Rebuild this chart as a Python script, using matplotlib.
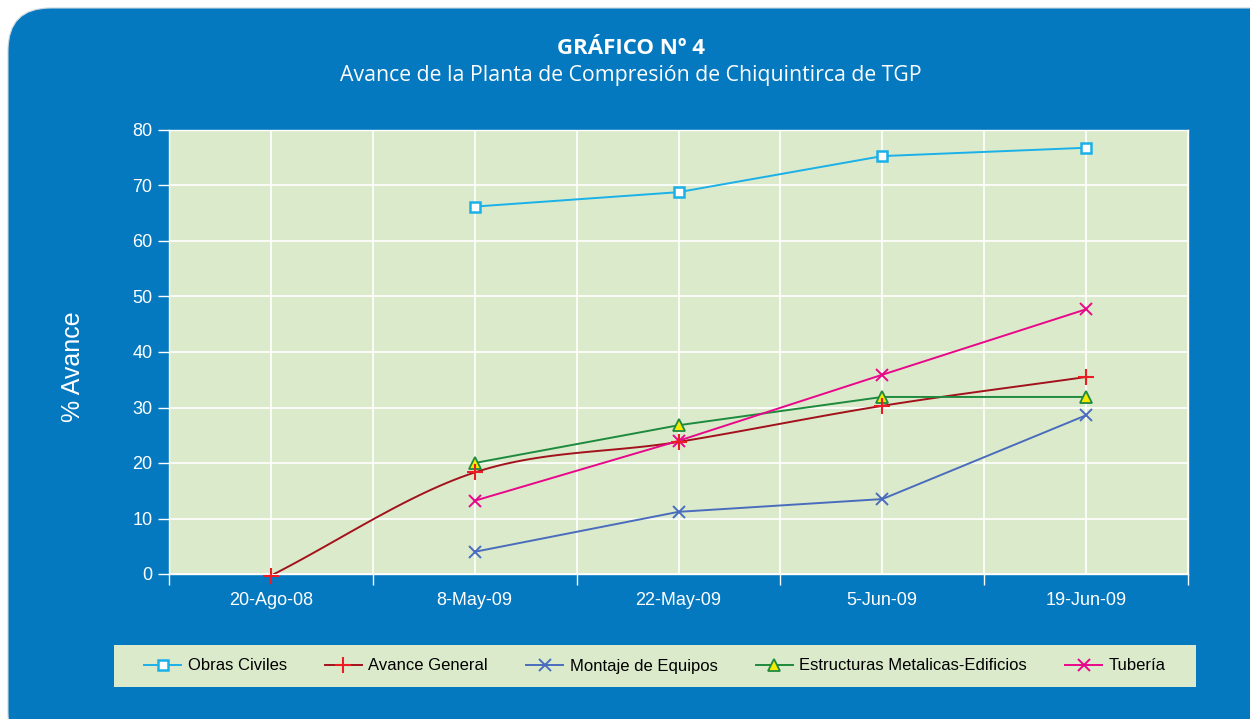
import numpy as np
import matplotlib.pyplot as plt
from matplotlib.patches import FancyBboxPatch, Rectangle

# Data
fechas = ['20-Ago-08', '8-May-09', '22-May-09', '5-Jun-09', '19-Jun-09']
obras_civiles = [None, 66.2, 68.8, 75.3, 76.8]
avance_general = [-0.3, 18.3, 23.8, 30.3, 35.5]
montaje_equipos = [None, 4.0, 11.2, 13.5, 28.6]
estructuras = [None, 20.0, 26.8, 31.9, 31.9]
tuberia = [None, 13.2, 24.0, 35.9, 47.7]

BLUE = '#0479c0'
PLOT_BG = '#dbeacb'


def smooth(xs, ys, n=30):
    # Catmull-Rom style smoothing (like Excel's smoothed line)
    xs = np.asarray(xs, float)
    ys = np.asarray(ys, float)
    px = np.concatenate([[2 * xs[0] - xs[1]], xs, [2 * xs[-1] - xs[-2]]])
    py = np.concatenate([[2 * ys[0] - ys[1]], ys, [2 * ys[-1] - ys[-2]]])
    outx, outy = [], []
    t = np.linspace(0, 1, n)
    for i in range(1, len(px) - 2):
        for p, out in ((px, outx), (py, outy)):
            p0, p1, p2, p3 = p[i - 1], p[i], p[i + 1], p[i + 2]
            seg = 0.5 * ((2 * p1) + (-p0 + p2) * t + (2 * p0 - 5 * p1 + 4 * p2 - p3) * t ** 2
                         + (-p0 + 3 * p1 - 3 * p2 + p3) * t ** 3)
            out.extend(seg)
    return np.array(outx), np.array(outy)


def present(vals):
    idx = [i for i, v in enumerate(vals) if v is not None]
    return idx, [vals[i] for i in idx]


fig = plt.figure(figsize=(12.5, 7.19), dpi=100)
fig.patch.set_facecolor('white')

# rounded blue panel
panel = FancyBboxPatch((8 / 1250, -0.05), 1.2, 1.05 - 8 / 719,
                       boxstyle='round,pad=0,rounding_size=0.034',
                       transform=fig.transFigure, facecolor=BLUE,
                       edgecolor='#c8d6e0', linewidth=0.8, mutation_aspect=1250 / 719,
                       zorder=-2)
fig.patches.append(panel)

ax = fig.add_axes([169 / 1250, 1 - 574 / 719, (1188 - 169) / 1250, (574 - 130) / 719])
ax.set_facecolor(PLOT_BG)

x = np.arange(len(fechas))

# Obras Civiles
i, v = present(obras_civiles)
ax.plot(i, v, color='#1ab0e8', linewidth=1.4, marker='s', markersize=7,
        markerfacecolor='white', markeredgecolor='#1ab0e8', markeredgewidth=1.8,
        label='Obras Civiles', zorder=5)

# Avance General (smoothed)
i, v = present(avance_general)
sx, sy = smooth(i, v)
ax.plot(sx, sy, color='#a3111c', linewidth=1.4, zorder=4)
ax.plot(i, v, linestyle='none', marker='+', markersize=11, markeredgewidth=1.5,
        color='#ec1c24', zorder=6, clip_on=False)
ax.plot([], [], color='#a3111c', linewidth=1.4, marker='+', markersize=11,
        markeredgewidth=1.5, markeredgecolor='#ec1c24', label='Avance General')

# Montaje de Equipos
i, v = present(montaje_equipos)
ax.plot(i, v, color='#4a6cbd', linewidth=1.4, marker='x', markersize=8,
        markeredgewidth=1.4, label='Montaje de Equipos', zorder=5)

# Estructuras
i, v = present(estructuras)
ax.plot(i, v, color='#1e8a3e', linewidth=1.4, marker='^', markersize=8.5,
        markerfacecolor='#f5ea00', markeredgecolor='#1e8a3e', markeredgewidth=1.3,
        label='Estructuras Metalicas-Edificios', zorder=5)

# Tubería
i, v = present(tuberia)
ax.plot(i, v, color='#e8078a', linewidth=1.4, marker='x', markersize=8,
        markeredgewidth=1.4, label='Tubería', zorder=5)

ax.set_xlim(-0.5, len(fechas) - 0.5)
ax.set_ylim(0, 80)
ax.set_yticks(np.arange(0, 81, 10))
ax.set_xticks(np.arange(-0.5, len(fechas), 1.0))
ax.set_xticklabels([])
ax.set_xticks(x, minor=True)
ax.set_xticklabels(fechas, minor=True)

ax.grid(True, which='both', color='white', linewidth=1.2)
ax.set_axisbelow(True)
ax.tick_params(axis='x', which='major', direction='out', length=8, color='white', width=1)
ax.tick_params(axis='x', which='minor', length=0, pad=13, labelcolor='white',
               labelsize=13)
ax.tick_params(axis='y', direction='out', length=8, color='white', width=1,
               labelcolor='white', labelsize=13, pad=4)
for lab in ax.get_xticklabels(minor=True) + ax.get_yticklabels():
    lab.set_family('Liberation Sans')
for s in ax.spines.values():
    s.set_color('white')
    s.set_linewidth(1)

ax.set_ylabel('% Avance', color='white', fontsize=18, family='Liberation Sans')
ax.yaxis.set_label_coords(-0.082, 0.466)

fig.text(0.505, 1 - 48 / 719, 'GRÁFICO Nº 4', ha='center', va='center', color='white',
         fontsize=16, fontweight='bold', family='Open Sans')
fig.text(0.505, 1 - 75 / 719, 'Avance de la Planta de Compresión de Chiquintirca de TGP',
         ha='center', va='center', color='white', fontsize=15.3, family='Open Sans')

leg_box = (114 / 1250, 1 - 687 / 719, (1196 - 114) / 1250, 42 / 719)
fig.patches.append(Rectangle(leg_box[:2], leg_box[2], leg_box[3], transform=fig.transFigure,
                             facecolor=PLOT_BG, edgecolor='none', zorder=-1))
leg = fig.legend(loc='center', bbox_to_anchor=leg_box, ncol=5, frameon=False,
                 prop={'family': 'Liberation Sans', 'size': 12},
                 handlelength=2.2, handletextpad=0.4, columnspacing=2.3)

fig.savefig('out.png', dpi=100)
